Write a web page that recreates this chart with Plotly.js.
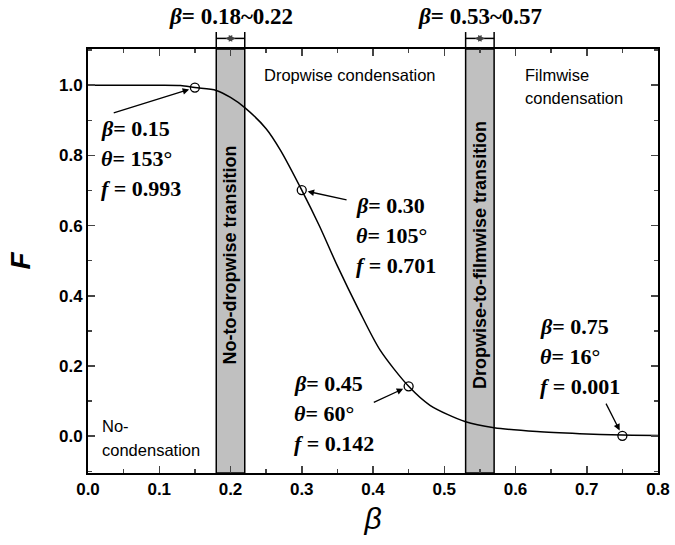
<!DOCTYPE html>
<html>
<head>
<meta charset="utf-8">
<script src="https://cdn.plot.ly/plotly-3.0.1.min.js"></script>
<style>
  html, body { margin: 0; padding: 0; background: #fff; }
  #chart { width: 675px; height: 545px; }
</style>
</head>
<body>
<div id="chart"></div>
<script>
// Curve
const beta = [0, 0.05, 0.10, 0.13, 0.15, 0.18, 0.20, 0.22, 0.25, 0.27, 0.30, 0.325, 0.35, 0.38, 0.41, 0.45, 0.48, 0.53, 0.57, 0.63, 0.69, 0.75, 0.80];
const fVals = [1, 1, 1, 0.999, 0.993, 0.985, 0.965, 0.936, 0.876, 0.815, 0.701, 0.598, 0.485, 0.36, 0.245, 0.142, 0.088, 0.041, 0.024, 0.013, 0.007, 0.003, 0.002];

// Marked points
const markBeta = [0.15, 0.30, 0.45, 0.75];
const markF = [0.993, 0.701, 0.142, 0.001];
const markTheta = [153, 105, 60, 16];
const markFText = ['0.993', '0.701', '0.142', '0.001'];

// Transition bands
const bandStart = [0.18, 0.53];
const bandEnd = [0.22, 0.57];
const bandNames = ['No-to-dropwise transition', 'Dropwise-to-filmwise transition'];

const xTicks = [0, 0.1, 0.2, 0.3, 0.4, 0.5, 0.6, 0.7, 0.8];
const yTicks = [0, 0.2, 0.4, 0.6, 0.8, 1.0];

// where the label blocks and arrow tails sit
const labelPos = [[0.015, 0.877], [0.373, 0.658], [0.286, 0.151], [0.632, 0.313]];
const arrowTail = [[0.034, 0.92], [0.365, 0.672], [0.399, 0.094], [0.726, 0.097]];
const lineGap = 0.086;

const serif = { family: 'Liberation Serif, Times New Roman, serif', size: 22, color: '#000' };
const sans = { family: 'Liberation Sans, Arial, sans-serif', size: 16.5, color: '#000' };

const traces = [
    {
        x: beta,
        y: fVals,
        type: 'scatter',
        mode: 'lines',
        line: { color: '#000', width: 1.5, shape: 'spline', smoothing: 0.8 },
        hoverinfo: 'skip'
    },
    {
        x: markBeta,
        y: markF,
        type: 'scatter',
        mode: 'markers',
        marker: { symbol: 'circle-open', size: 9, color: '#000', line: { width: 1.3 } }
    }
];

const shapes = [];
const annotations = [];

bandStart.forEach((b0, i) => {
    const b1 = bandEnd[i];
    shapes.push({
        type: 'rect', xref: 'x', yref: 'y', x0: b0, x1: b1, y0: -0.105, y1: 1.103,
        fillcolor: '#c0c0c0', line: { color: '#000', width: 1.5 }, layer: 'below'
    });
    // edge lines rising above the frame
    [b0, b1].forEach(b => {
        shapes.push({
            type: 'line', xref: 'x', yref: 'paper', x0: b, x1: b, y0: 1.0, y1: 1.04,
            line: { color: '#000', width: 1.5 }
        });
    });
    shapes.push({
        type: 'line', xref: 'x', yref: 'paper', x0: b0, x1: b1, y0: 1.025, y1: 1.025,
        line: { color: '#000', width: 1.5 }
    });
    // little arrowheads of the bracket
    annotations.push({
        x: (b0 + b1) / 2 - 0.007, y: 1.025, xref: 'x', yref: 'paper',
        ax: 9, ay: 0, text: '', showarrow: true, arrowhead: 2, arrowsize: 0.9, arrowwidth: 1.5
    });
    annotations.push({
        x: (b0 + b1) / 2 + 0.007, y: 1.025, xref: 'x', yref: 'paper',
        ax: -9, ay: 0, text: '', showarrow: true, arrowhead: 2, arrowsize: 0.9, arrowwidth: 1.5
    });
    annotations.push({
        x: (b0 + b1) / 2, y: 1.076, xref: 'x', yref: 'paper',
        text: '<b><i>β</i>= ' + b0.toFixed(2) + '~' + b1.toFixed(2) + '</b>',
        showarrow: false, xanchor: 'center', yanchor: 'middle',
        font: { family: serif.family, size: 23, color: '#000' }
    });
    annotations.push({
        x: (b0 + b1) / 2, y: 0.516, xref: 'x', yref: 'y',
        text: '<b>' + bandNames[i] + '</b>', textangle: -90,
        showarrow: false, xanchor: 'center', yanchor: 'middle',
        font: { family: sans.family, size: 18, color: '#000' }
    });
});

// point labels with arrows
markBeta.forEach((b, i) => {
    const [lx, ly] = labelPos[i];
    const lines = [
        '<b><i>β</i>= ' + b.toFixed(2) + '</b>',
        '<b><i>θ</i>= ' + markTheta[i] + '°</b>',
        '<b><i>f</i> = ' + markFText[i] + '</b>'
    ];
    lines.forEach((t, k) => {
        annotations.push({
            x: lx, y: ly - k * lineGap, xref: 'x', yref: 'y',
            text: t, showarrow: false, xanchor: 'left', yanchor: 'middle', font: serif
        });
    });
    annotations.push({
        x: b, y: markF[i], xref: 'x', yref: 'y',
        ax: arrowTail[i][0], ay: arrowTail[i][1], axref: 'x', ayref: 'y',
        text: '', showarrow: true, arrowhead: 2, arrowsize: 1, arrowwidth: 1.3,
        standoff: 6, arrowcolor: '#000'
    });
});

// region labels
const regionText = [
    ['Dropwise condensation', 0.244, 1.028],
    ['Filmwise', 0.61, 1.028],
    ['condensation', 0.61, 0.962],
    ['No-', 0.017, 0.028],
    ['condensation', 0.017, -0.04]
];
regionText.forEach(r => {
    annotations.push({
        x: r[1], y: r[2], xref: 'x', yref: 'y', text: r[0],
        showarrow: false, xanchor: 'left', yanchor: 'middle', font: sans
    });
});

const tickFont = { family: 'Liberation Sans Narrow, Liberation Sans, Arial, sans-serif', size: 17, color: '#000', weight: 'bold' };

const layout = {
    width: 675,
    height: 545,
    margin: { l: 88, r: 17, t: 49, b: 72 },
    paper_bgcolor: '#fff',
    plot_bgcolor: '#fff',
    showlegend: false,
    xaxis: {
        range: [0, 0.8],
        tickvals: xTicks,
        ticktext: xTicks.map(v => v.toFixed(1)),
        ticks: 'inside', ticklen: 7, tickwidth: 1.5,
        minor: { ticks: 'inside', ticklen: 4, dtick: 0.05, tick0: 0, tickwidth: 1.5 },
        showline: true, linewidth: 2, linecolor: '#000', mirror: 'allticks',
        showgrid: false, zeroline: false,
        tickfont: tickFont,
        title: { text: '<i>β</i>', font: { family: 'Liberation Sans, Arial, sans-serif', size: 30, color: '#000' }, standoff: 10 }
    },
    yaxis: {
        range: [-0.105, 1.103],
        tickvals: yTicks,
        ticktext: yTicks.map(v => v.toFixed(1)),
        ticks: 'inside', ticklen: 7, tickwidth: 1.5,
        minor: { ticks: 'inside', ticklen: 4, dtick: 0.1, tick0: 0, tickwidth: 1.5 },
        showline: true, linewidth: 2, linecolor: '#000', mirror: 'allticks',
        showgrid: false, zeroline: false,
        tickfont: tickFont,
        title: { text: '<b><i>F</i></b>', font: { family: 'Liberation Sans, Arial, sans-serif', size: 28, color: '#000' }, standoff: 20 }
    },
    shapes: shapes,
    annotations: annotations
};

Plotly.newPlot('chart', traces, layout, { displayModeBar: false, staticPlot: true });
</script>
</body>
</html>
